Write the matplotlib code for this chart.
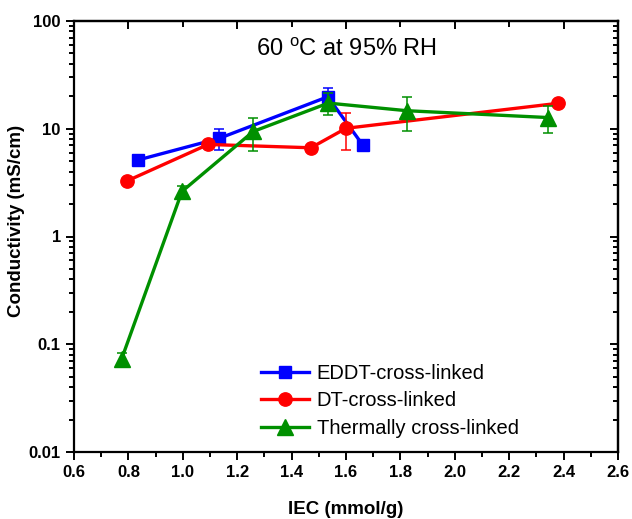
import matplotlib
matplotlib.use('Agg')
import matplotlib.pyplot as plt
from matplotlib.ticker import MultipleLocator, LogLocator, FuncFormatter, NullFormatter

plt.rcParams['font.family'] = ['Liberation Sans', 'DejaVu Sans']
plt.rcParams['mathtext.fontset'] = 'custom'
plt.rcParams['mathtext.rm'] = 'Liberation Sans'

# data
eddt_x = [0.834, 1.133, 1.533, 1.661]
eddt_y = [5.12, 8.13, 19.8, 7.1]
eddt_err = [0, 1.8, 3.9, 0]

dt_x = [0.794, 1.093, 1.471, 1.600, 2.378]
dt_y = [3.27, 7.15, 6.66, 10.1, 17.2]
dt_err = [0, 0, 0, 3.8, 0]

th_x = [0.775, 0.997, 1.259, 1.535, 1.824, 2.344]
th_y = [0.073, 2.62, 9.44, 17.3, 14.7, 12.7]
th_err = [0.01, 0.35, 3.2, 4.0, 5.2, 3.6]

labels = ['EDDT-cross-linked', 'DT-cross-linked', 'Thermally cross-linked']

fig = plt.figure(figsize=(6.32, 5.19), dpi=100)
ax = fig.add_axes([74 / 632, 67 / 519, 544 / 632, 431 / 519])

series = [
    (eddt_x, eddt_y, eddt_err, '#0000ff', 's', 8.4),
    (dt_x, dt_y, dt_err, '#ff0000', 'o', 9.6),
    (th_x, th_y, th_err, '#009000', '^', 11),
]
handles = []
for i, (xs, ys, es, col, mk, ms) in enumerate(series):
    c = ax.errorbar(xs, ys, yerr=es, color=col, marker=mk, markersize=ms,
                    lw=2.4, elinewidth=1.1, capsize=3.5, capthick=1.1,
                    zorder=2 + i)
    handles.append(c.lines[0])

ax.set_yscale('log')
ax.set_xlim(0.6, 2.6)
ax.set_ylim(0.01, 100)

ax.xaxis.set_major_locator(MultipleLocator(0.2))
ax.xaxis.set_minor_locator(MultipleLocator(0.1))
ax.yaxis.set_major_locator(LogLocator(base=10))
ax.yaxis.set_minor_locator(LogLocator(base=10, subs=range(2, 10)))
ax.yaxis.set_major_formatter(FuncFormatter(lambda v, p: '%g' % v))
ax.yaxis.set_minor_formatter(NullFormatter())
ax.xaxis.set_major_formatter(FuncFormatter(lambda v, p: '%.1f' % v))

for s in ax.spines.values():
    s.set_linewidth(1.6)

ax.tick_params(which='both', direction='out', width=1.4, top=False, right=False)
ax.tick_params(which='major', length=6)
ax.tick_params(which='minor', length=3.5)
for lab in ax.get_xticklabels() + ax.get_yticklabels():
    lab.set_fontweight('bold')
    lab.set_fontsize(12)

# inward ticks on top and right
top = ax.secondary_xaxis('top')
top.xaxis.set_major_locator(MultipleLocator(0.4))
top.xaxis.set_minor_locator(MultipleLocator(0.2))
top.tick_params(which='both', direction='in', width=1.4, labeltop=False)
top.tick_params(which='major', length=6)
top.tick_params(which='minor', length=4)
top.spines['top'].set_linewidth(1.6)

right = ax.secondary_yaxis('right')
right.yaxis.set_major_locator(LogLocator(base=10))
right.yaxis.set_minor_locator(LogLocator(base=10, subs=range(2, 10)))
right.tick_params(which='both', direction='in', width=1.4, labelright=False)
right.tick_params(which='major', length=6)
right.tick_params(which='minor', length=3.5)
right.spines['right'].set_linewidth(1.6)

ax.set_xlabel('IEC (mmol/g)', fontsize=13.5, fontweight='bold', labelpad=15)
ax.set_ylabel('Conductivity (mS/cm)', fontsize=13.5, fontweight='bold')
ax.yaxis.set_label_coords(-0.09, 0.536)

ax.text(0.5, 0.919, r'60 $^\mathrm{o}$C at 95% RH', transform=ax.transAxes,
        ha='center', va='baseline', fontsize=17)

ax.legend(handles, labels, loc='upper left', bbox_to_anchor=(0.344, 0.205),
          frameon=False, fontsize=14.5, handlelength=2.4, handletextpad=0.35,
          labelspacing=0.42, borderpad=0, borderaxespad=0)

fig.savefig('out.png', dpi=100)
